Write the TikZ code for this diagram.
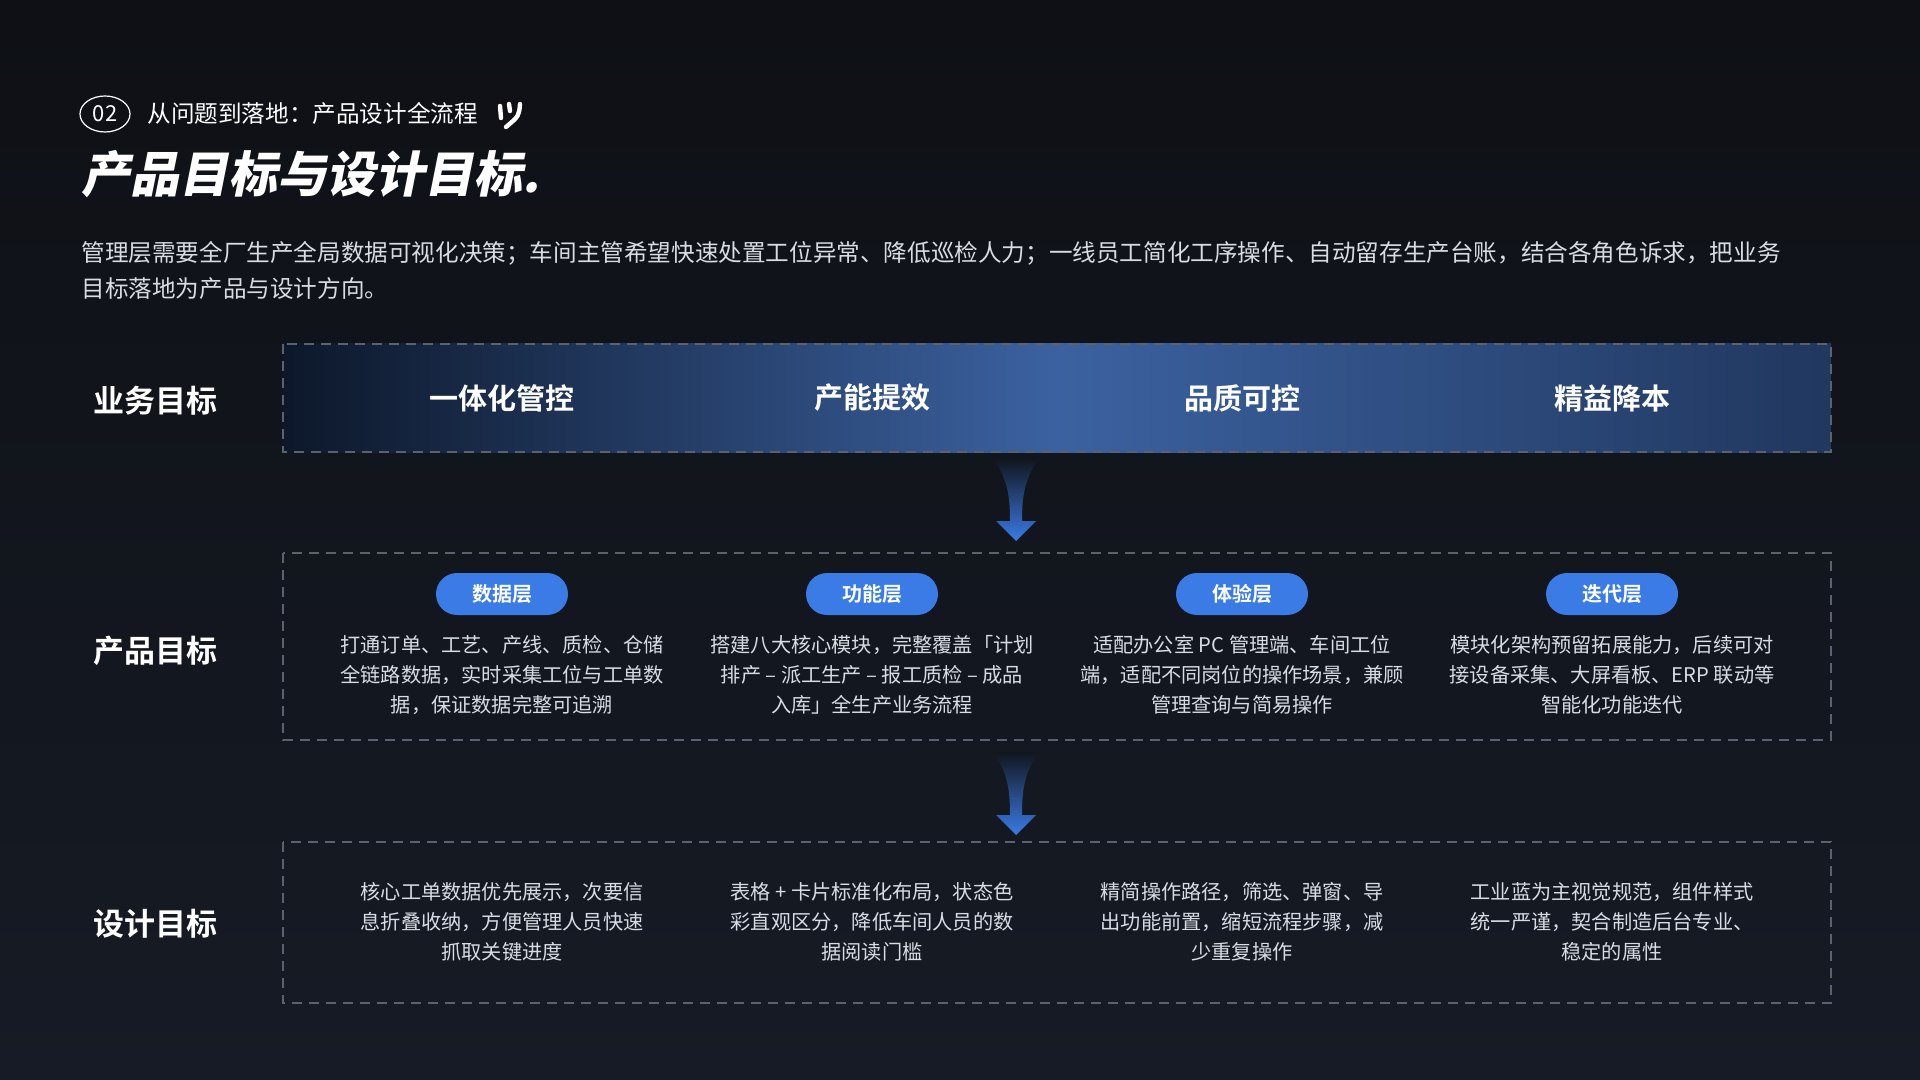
\documentclass[tikz,border=0pt]{standalone}
\usepackage{fontspec}
\setmainfont{Noto Sans CJK SC}
\newfontfamily\cjkb{Noto Sans CJK SC Bold}
\newfontfamily\cjkblk[FakeSlant=0.2]{Noto Sans CJK SC Black}
\usetikzlibrary{shapes.geometric}
\definecolor{bgtop}{HTML}{0E1015}
\definecolor{bgbot}{HTML}{161B25}
\definecolor{pillb}{HTML}{3A7BE6}
\definecolor{txt}{HTML}{D8DCE3}
\definecolor{dash}{HTML}{5A6170}
\begin{document}
\begin{tikzpicture}[x=0.5pt,y=-0.5pt,
  rowbox/.style={draw=dash,dash pattern=on 5pt off 3.5pt,line width=0.6pt},
  lab/.style={text=white,font=\cjkb\fontsize{15.5}{18}\selectfont},
  goal/.style={text=white,font=\cjkb\fontsize{14.5}{18}\selectfont},
  pill/.style={fill=pillb,rounded corners=10.5pt,minimum width=66pt,minimum height=21pt,text=white,font=\cjkb\fontsize{10}{12}\selectfont,inner sep=0pt},
  desc/.style={text=txt,align=center,font=\fontsize{10.1}{15}\selectfont},
  flow/.style={top color=bgbot!80!black,bottom color=pillb,draw=none}]
\shade[top color=bgtop,bottom color=bgbot] (0,0) rectangle (1920,1080);
\useasboundingbox (0,0) rectangle (1920,1080);
% header
\node[draw=white,ellipse,minimum width=25pt,minimum height=18pt,inner sep=0pt,line width=0.6pt,text=white,font=\itshape\fontsize{11}{12}\selectfont] (num) at (105,114) {02};
\node[anchor=west,text=white,font=\fontsize{11.8}{14}\selectfont,inner sep=0pt] (sub) at (147,113) {从问题到落地：产品设计全流程};
\draw[white,line width=2.2pt,line cap=round] (500,106) -- (501,118) (509,104) -- (510,111) (520,104) .. controls (519,116) .. (506,127);
\node[anchor=west,text=white,font=\cjkblk\fontsize{24.5}{28}\selectfont,inner sep=0pt] (title) at (81,174) {产品目标与设计目标.};
\node[anchor=north west,text=txt,align=left,text width=930pt,font=\fontsize{11.8}{18}\selectfont,inner sep=0pt] (para) at (81,241) {管理层需要全厂生产全局数据可视化决策；车间主管希望快速处置工位异常、降低巡检人力；一线员工简化工序操作、自动留存生产台账，结合各角色诉求，把业务\\目标落地为产品与设计方向。};
% row 1
\shade[left color=bgtop!60!pillb!40!black,right color=pillb!30!bgbot,middle color=pillb!65!black!90] (283,344) rectangle (1831,452);
\draw[rowbox] (283,344) rectangle (1831,452);
\node[lab] (l1) at (155,401) {业务目标};
\foreach \x/\t [count=\i] in {502/一体化管控,872/产能提效,1242/品质可控,1612/精益降本}
  \node[goal] (g\i) at (\x,398) {\t};
% arrows
\foreach \a/\b in {459/541,752/835}{
  \shade[flow] (994,\a) .. controls (1006,\a+20) and (1010,\b-50) .. (1010,\b-20) -- (996,\b-20) -- (1016,\b) -- (1036,\b-20) -- (1022,\b-20) .. controls (1022,\b-50) and (1026,\a+20) .. (1038,\a) -- cycle;
}
% row 2
\draw[rowbox] (283,553) rectangle (1831,740);
\node[lab] (l2) at (155,651) {产品目标};
\foreach \x/\t [count=\i] in {502/数据层,872/功能层,1242/体验层,1612/迭代层}
  \node[pill] (p\i) at (\x,594) {\t};
\node[desc] (d1) at (502,675) {打通订单、工艺、产线、质检、仓储\\全链路数据，实时采集工位与工单数\\据，保证数据完整可追溯};
\node[desc] (d2) at (872,675) {搭建八大核心模块，完整覆盖「计划\\排产 – 派工生产 – 报工质检 – 成品\\入库」全生产业务流程};
\node[desc] (d3) at (1242,675) {适配办公室 PC 管理端、车间工位\\端，适配不同岗位的操作场景，兼顾\\管理查询与简易操作};
\node[desc] (d4) at (1612,675) {模块化架构预留拓展能力，后续可对\\接设备采集、大屏看板、ERP 联动等\\智能化功能迭代};
% row 3
\draw[rowbox] (283,842) rectangle (1831,1003);
\node[lab] (l3) at (155,924) {设计目标};
\node[desc] (e1) at (502,922) {核心工单数据优先展示，次要信\\息折叠收纳，方便管理人员快速\\抓取关键进度};
\node[desc] (e2) at (872,922) {表格 + 卡片标准化布局，状态色\\彩直观区分，降低车间人员的数\\据阅读门槛};
\node[desc] (e3) at (1242,922) {精简操作路径，筛选、弹窗、导\\出功能前置，缩短流程步骤，减\\少重复操作};
\node[desc] (e4) at (1612,922) {工业蓝为主视觉规范，组件样式\\统一严谨，契合制造后台专业、\\稳定的属性};
\end{tikzpicture}
\end{document}
